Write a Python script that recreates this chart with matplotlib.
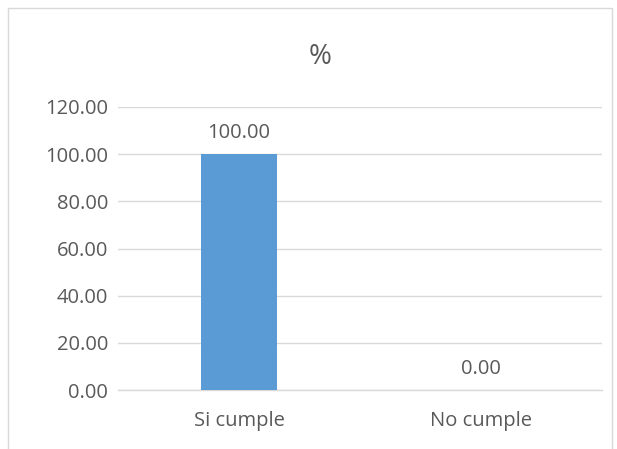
import matplotlib
matplotlib.use("Agg")
import matplotlib.pyplot as plt
from matplotlib.patches import Rectangle

categories = ["Si cumple", "No cumple"]
values = [100.00, 0.00]
yticks = [0, 20, 40, 60, 80, 100, 120]
title = "%"

plt.rcParams['font.family'] = ['Open Sans', 'DejaVu Sans']
txt = '#595959'

fig = plt.figure(figsize=(6.17, 4.49), dpi=100)
fig.patch.set_facecolor('white')
# chart border
fig.patches.append(Rectangle((8/617, -0.05), (612-8)/617, 1 - 8/449 + 0.05,
                             transform=fig.transFigure, fill=False,
                             edgecolor='#D9D9D9', linewidth=1.0))

ax = fig.add_axes([118/617, 1-390/449, (602-118)/617, (390-107)/449])
x = range(len(categories))
bars = ax.bar(x, values, width=0.315, color='#5B9BD5', zorder=3)
ax.set_xlim(-0.5, 1.5)
ax.set_ylim(0, 120)
ax.set_yticks(yticks)
ax.set_yticklabels([f"{v:.2f}" for v in yticks], fontsize=14.5, color=txt)
ax.set_xticks(list(x))
ax.set_xticklabels(categories, fontsize=14.5, color=txt)
ax.tick_params(axis='both', length=0)
ax.tick_params(axis='x', pad=15)
ax.tick_params(axis='y', pad=7)
ax.grid(axis='y', color='#D9D9D9', linewidth=1.0, zorder=0)
for s in ['top', 'right', 'left']:
    ax.spines[s].set_visible(False)
ax.spines['bottom'].set_color('#D9D9D9')
ax.spines['bottom'].set_linewidth(1.0)

for xi, v in zip(x, values):
    ax.annotate(f"{v:.2f}", (xi, v), xytext=(0, 8), textcoords='offset points',
                ha='center', va='bottom', fontsize=14.5, color=txt)

fig.text(320/617, 1-57/449, title, ha='center', va='center', fontsize=20, color=txt)

fig.savefig("out.png", dpi=100)
